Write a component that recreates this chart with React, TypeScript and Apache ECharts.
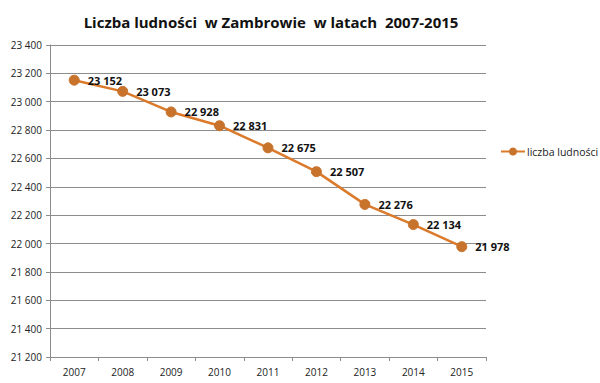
import React, { useEffect, useRef } from "react";
import * as echarts from "echarts";

const years = ["2007", "2008", "2009", "2010", "2011", "2012", "2013", "2014", "2015"];
const population = [23152, 23073, 22928, 22831, 22675, 22507, 22276, 22134, 21978];
const seriesName = "liczba ludności";
const titleText = "Liczba ludności  w Zambrowie  w latach  2007-2015";

const fmt = (v: number) => {
  const s = String(Math.round(v));
  return s.replace(/\B(?=(\d{3})+(?!\d))/g, " ");
};

export default function App() {
  const ref = useRef<HTMLDivElement>(null);
  useEffect(() => {
    if (!ref.current) return;
    const chart = echarts.init(ref.current, undefined, { renderer: "svg" });
    const font = "'Open Sans', 'DejaVu Sans', sans-serif";
    chart.setOption({
      animation: false,
      backgroundColor: "#fff",
      title: {
        text: titleText,
        left: 266,
        textAlign: "center",
        top: 9,
        textStyle: { fontFamily: font, fontSize: 15, fontWeight: "bold", color: "#111" },
      },
      legend: {
        data: [seriesName],
        left: 495,
        top: 141,
        itemWidth: 24,
        itemHeight: 10,
        itemGap: 4,
        textStyle: { fontFamily: font, fontSize: 10.5, color: "#222", padding: [0, 0, 0, -3] },
      },
      grid: { left: 50, right: 114, top: 45, bottom: 26 },
      xAxis: {
        type: "category",
        data: years,
        boundaryGap: true,
        axisLine: { lineStyle: { color: "#8c8c8c" } },
        axisTick: { show: true, length: 4, lineStyle: { color: "#8c8c8c" } },
        axisLabel: { fontFamily: font, fontSize: 10, color: "#222", margin: 10 },
      },
      yAxis: {
        type: "value",
        min: 21200,
        max: 23400,
        interval: 200,
        axisLine: { show: true, lineStyle: { color: "#8c8c8c" } },
        axisTick: { show: true, length: 4, lineStyle: { color: "#8c8c8c" } },
        splitLine: { lineStyle: { color: "#8c8c8c" } },
        axisLabel: { fontFamily: font, fontSize: 10, color: "#222", margin: 8, formatter: fmt },
      },
      series: [
        {
          name: seriesName,
          type: "line",
          data: population,
          symbol: "circle",
          symbolSize: 10,
          lineStyle: { color: "#DB7A2A", width: 2.5 },
          itemStyle: { color: "#C8732C", borderColor: "#C8732C" },
          label: {
            show: true,
            position: "right",
            distance: 8,
            fontFamily: font,
            fontSize: 11,
            fontWeight: "bold",
            color: "#111",
            formatter: (p: any) => fmt(p.value),
          },
        },
      ],
    });
    return () => chart.dispose();
  }, []);
  return <div ref={ref} style={{ width: 600, height: 383, position: "absolute", left: 0, top: 0 }} />;
}
